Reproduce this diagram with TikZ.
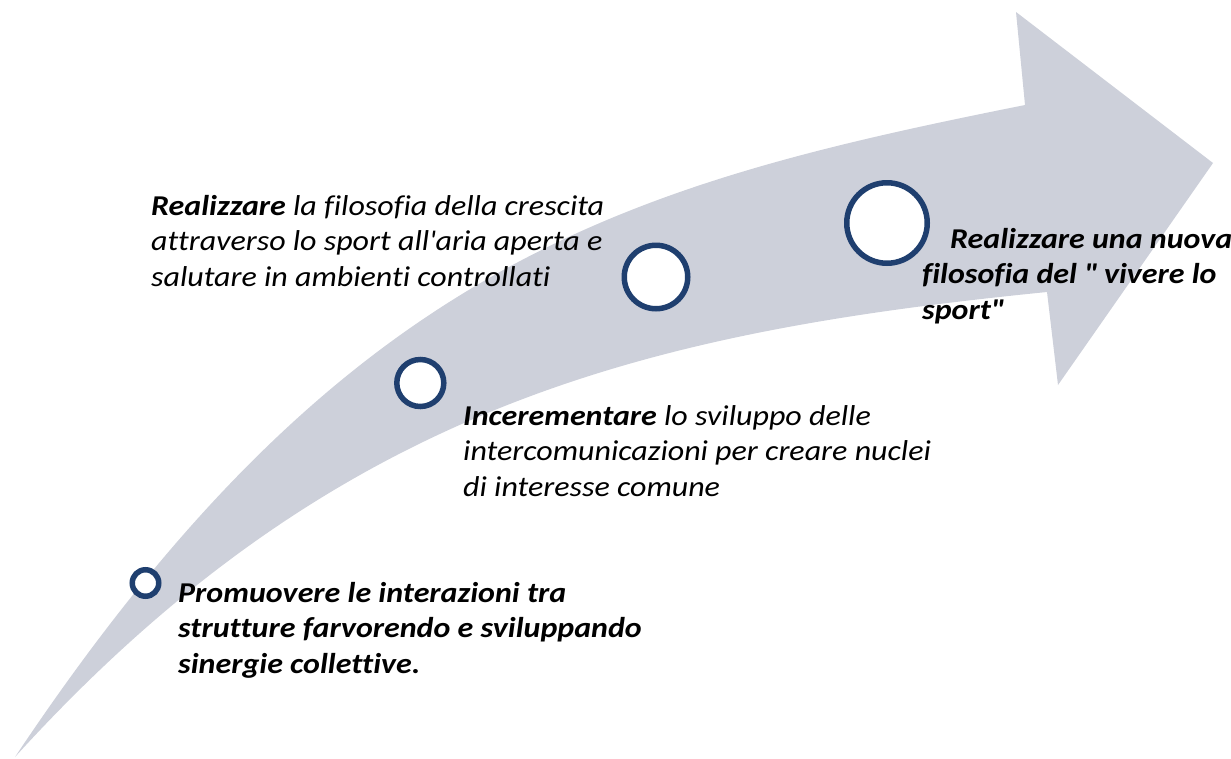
\documentclass[tikz,border=0pt]{standalone}
\usepackage{fontspec}
\setmainfont{Carlito}[FakeStretch=1.115,Ligatures={NoCommon}]
\definecolor{arrowgray}{RGB}{205,208,218}
\definecolor{ringblue}{RGB}{31,63,111}
\newcommand\sqt{\XeTeXglyph\XeTeXcharglyph"27\relax}
\newcommand\dqt{\XeTeXglyph\XeTeXcharglyph"22\relax}
\begin{document}
\begin{tikzpicture}[x=1pt,y=-1pt,
  ring/.style={circle,draw=ringblue,fill=white,line width=5.5pt,inner sep=0pt},
  txt/.style={anchor=base west,inner sep=0pt,font=\fontsize{28.7}{35.5}\selectfont\itshape}]
\useasboundingbox (0,0) rectangle (1231,758);
\fill[arrowgray] (15,757) .. controls (345,262) and (625,185) .. (1025,105)
  -- (1016,12) -- (1213,163) -- (1058,385) -- (1047,292)
  .. controls (647,332) and (335,405) .. (15,757) -- cycle;
\node[ring,minimum size=26.5pt] (c1) at (145.5,583) {};
\node[ring,minimum size=47pt] (c2) at (420.3,383) {};
\node[ring,minimum size=63.5pt] (c3) at (656,277) {};
\node[ring,minimum size=80.5pt] (c4) at (887,223) {};
\node[txt] (t1) at (151,215) {\begin{tabular}[t]{@{}l@{}}\textbf{Realizzare} la filosofia della crescita\\ attraverso lo sport all\sqt aria aperta e\\ salutare in ambienti controllati\end{tabular}};
\node[txt] (t2) at (463,425) {\begin{tabular}[t]{@{}l@{}}\textbf{Incerementare} lo sviluppo delle\\ intercomunicazioni per creare nuclei\\ di interesse comune\end{tabular}};
\node[txt] (t3) at (178,602) {\bfseries\begin{tabular}[t]{@{}l@{}}Promuovere le interazioni tra\\ strutture farvorendo e sviluppando\\ sinergie collettive.\end{tabular}};
\node[txt] (t4) at (922,248) {\bfseries\begin{tabular}[t]{@{}l@{}}\hspace*{28pt}Realizzare una nuova\\ filosofia del \dqt{} vivere lo\\ sport\dqt\end{tabular}};
\end{tikzpicture}
\end{document}
